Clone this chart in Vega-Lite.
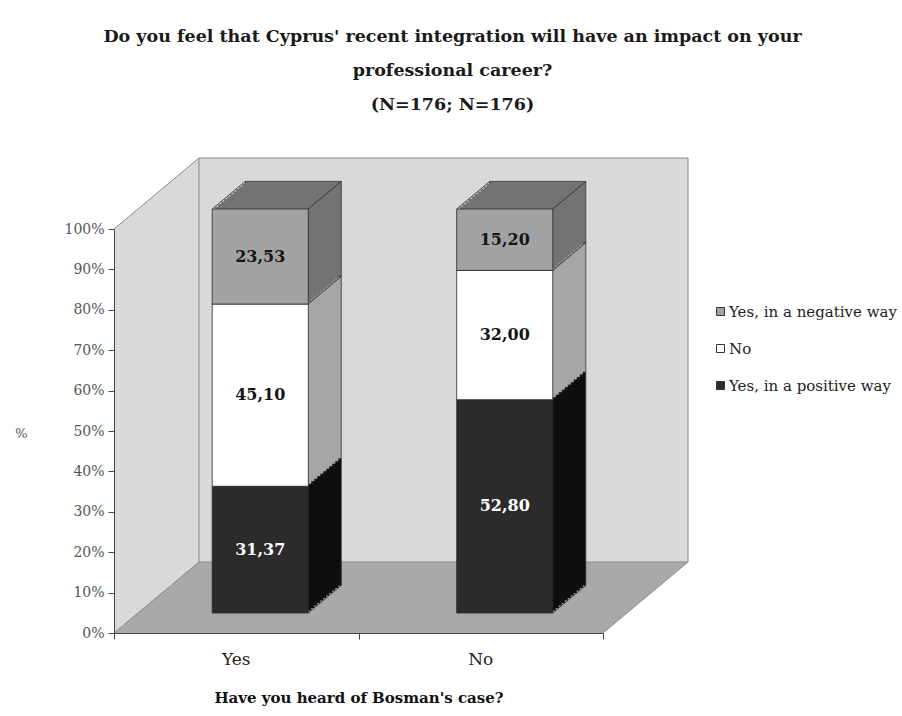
{
  "$schema": "https://vega.github.io/schema/vega-lite/v6.json",
  "width": 489,
  "height": 404,
  "autosize": {"type": "none"},
  "padding": {"left": 114, "top": 229, "right": 299, "bottom": 83},
  "background": "#ffffff",
  "title": {
    "text": [
      "Do you feel that Cyprus' recent integration will have an impact on your",
      "professional career?",
      "(N=176; N=176)"
    ],
    "font": "DejaVu Serif",
    "fontSize": 17.5,
    "fontWeight": "bold",
    "lineHeight": 34,
    "color": "#1a1a1a",
    "anchor": "middle",
    "frame": "group",
    "dx": 94,
    "offset": -8
  },
  "datasets": {
    "answers": [
      {"heard": "Yes", "answer": "Yes, in a positive way", "pct": 31.37},
      {"heard": "Yes", "answer": "No", "pct": 45.10},
      {"heard": "Yes", "answer": "Yes, in a negative way", "pct": 23.53},
      {"heard": "No", "answer": "Yes, in a positive way", "pct": 52.80},
      {"heard": "No", "answer": "No", "pct": 32.00},
      {"heard": "No", "answer": "Yes, in a negative way", "pct": 15.20}
    ]
  },
  "resolve": {"scale": {"x": "independent"}},
  "layer": [
    {
      "description": "walls: one light grey block for the left and back walls",
      "data": {"values": [{}]},
      "mark": {"type": "rect", "fill": "#d9d9d9", "x2Offset": 85, "y2Offset": -71},
      "encoding": {
        "x": {"datum": 0, "type": "quantitative", "scale": {"domain": [0, 1], "nice": false, "zero": false}, "axis": null},
        "x2": {"datum": 1},
        "y": {"datum": 0, "type": "quantitative", "scale": {"domain": [0, 100], "nice": false}},
        "y2": {"datum": 100}
      }
    },
    {
      "description": "floor",
      "data": {"values": [{}]},
      "mark": {"type": "rect", "fill": "#a9a9a9", "x2Offset": 85, "y2Offset": -71},
      "encoding": {
        "x": {"datum": 0, "type": "quantitative", "scale": {"domain": [0, 1], "nice": false, "zero": false}, "axis": null},
        "x2": {"datum": 1},
        "y": {"datum": 0, "type": "quantitative", "scale": {"domain": [0, 100], "nice": false}},
        "y2": {"datum": 0}
      }
    },
    {
      "description": "trim above the slanted top edge of the left wall",
      "data": {"values": [{}]},
      "mark": {"type": "rule", "color": "#ffffff", "strokeWidth": 60, "strokeCap": "butt", "xOffset": -19.2, "x2Offset": 65.8, "yOffset": -23, "y2Offset": -94},
      "encoding": {
        "x": {"datum": 0, "type": "quantitative", "scale": {"domain": [0, 1], "nice": false, "zero": false}, "axis": null},
        "x2": {"datum": 0},
        "y": {"datum": 100, "type": "quantitative", "scale": {"domain": [0, 100], "nice": false}},
        "y2": {"datum": 100}
      }
    },
    {
      "description": "left wall corner over the floor",
      "data": {"values": [{}]},
      "mark": {"type": "rule", "color": "#d9d9d9", "strokeWidth": 60, "strokeCap": "butt", "clip": true, "xOffset": -19.2, "x2Offset": 65.8, "yOffset": -23, "y2Offset": -94},
      "encoding": {
        "x": {"datum": 0, "type": "quantitative", "scale": {"domain": [0, 1], "nice": false, "zero": false}, "axis": null},
        "x2": {"datum": 0},
        "y": {"datum": 0, "type": "quantitative", "scale": {"domain": [0, 100], "nice": false}},
        "y2": {"datum": 0}
      }
    },
    {
      "description": "trim below the slanted right edge of the floor",
      "data": {"values": [{}]},
      "mark": {"type": "rule", "color": "#ffffff", "strokeWidth": 60, "strokeCap": "butt", "xOffset": 19.2, "x2Offset": 104.2, "yOffset": 23, "y2Offset": -48},
      "encoding": {
        "x": {"datum": 1, "type": "quantitative", "scale": {"domain": [0, 1], "nice": false, "zero": false}, "axis": null},
        "x2": {"datum": 1},
        "y": {"datum": 0, "type": "quantitative", "scale": {"domain": [0, 100], "nice": false}},
        "y2": {"datum": 0}
      }
    },
    {
      "description": "edge: top of left wall",
      "data": {"values": [{}]},
      "mark": {"type": "rule", "color": "#8a8a8a", "strokeWidth": 1, "x2Offset": 85, "y2Offset": -71},
      "encoding": {
        "x": {"datum": 0, "type": "quantitative", "scale": {"domain": [0, 1], "nice": false, "zero": false}, "axis": null},
        "x2": {"datum": 0},
        "y": {"datum": 100, "type": "quantitative", "scale": {"domain": [0, 100], "nice": false}},
        "y2": {"datum": 100}
      }
    },
    {
      "description": "edge: top of back wall",
      "data": {"values": [{}]},
      "mark": {"type": "rule", "color": "#8a8a8a", "strokeWidth": 1, "xOffset": 85, "x2Offset": 85, "yOffset": -71, "y2Offset": -71},
      "encoding": {
        "x": {"datum": 0, "type": "quantitative", "scale": {"domain": [0, 1], "nice": false, "zero": false}, "axis": null},
        "x2": {"datum": 1},
        "y": {"datum": 100, "type": "quantitative", "scale": {"domain": [0, 100], "nice": false}},
        "y2": {"datum": 100}
      }
    },
    {
      "description": "edge: right side of back wall",
      "data": {"values": [{}]},
      "mark": {"type": "rule", "color": "#8a8a8a", "strokeWidth": 1, "xOffset": 85, "x2Offset": 85, "yOffset": -71, "y2Offset": -71},
      "encoding": {
        "x": {"datum": 1, "type": "quantitative", "scale": {"domain": [0, 1], "nice": false, "zero": false}, "axis": null},
        "x2": {"datum": 1},
        "y": {"datum": 100, "type": "quantitative", "scale": {"domain": [0, 100], "nice": false}},
        "y2": {"datum": 0}
      }
    },
    {
      "description": "edge: corner between left and back walls",
      "data": {"values": [{}]},
      "mark": {"type": "rule", "color": "#8a8a8a", "strokeWidth": 1, "xOffset": 85, "x2Offset": 85, "yOffset": -71, "y2Offset": -71},
      "encoding": {
        "x": {"datum": 0, "type": "quantitative", "scale": {"domain": [0, 1], "nice": false, "zero": false}, "axis": null},
        "x2": {"datum": 0},
        "y": {"datum": 100, "type": "quantitative", "scale": {"domain": [0, 100], "nice": false}},
        "y2": {"datum": 0}
      }
    },
    {
      "description": "edge: back of floor",
      "data": {"values": [{}]},
      "mark": {"type": "rule", "color": "#8a8a8a", "strokeWidth": 1, "xOffset": 85, "x2Offset": 85, "yOffset": -71, "y2Offset": -71},
      "encoding": {
        "x": {"datum": 0, "type": "quantitative", "scale": {"domain": [0, 1], "nice": false, "zero": false}, "axis": null},
        "x2": {"datum": 1},
        "y": {"datum": 0, "type": "quantitative", "scale": {"domain": [0, 100], "nice": false}},
        "y2": {"datum": 0}
      }
    },
    {
      "description": "edge: left of floor",
      "data": {"values": [{}]},
      "mark": {"type": "rule", "color": "#8a8a8a", "strokeWidth": 1, "x2Offset": 85, "y2Offset": -71},
      "encoding": {
        "x": {"datum": 0, "type": "quantitative", "scale": {"domain": [0, 1], "nice": false, "zero": false}, "axis": null},
        "x2": {"datum": 0},
        "y": {"datum": 0, "type": "quantitative", "scale": {"domain": [0, 100], "nice": false}},
        "y2": {"datum": 0}
      }
    },
    {
      "description": "edge: right of floor, carries the category tick marks",
      "data": {"values": [{}]},
      "mark": {"type": "rule", "color": "#8a8a8a", "strokeWidth": 1, "x2Offset": 85, "y2Offset": -71},
      "encoding": {
        "x": {
          "datum": 1, "type": "quantitative",
          "scale": {"domain": [0, 1], "nice": false, "zero": false},
          "axis": {
            "orient": "bottom", "values": [0, 0.5, 1], "labels": false, "grid": false, "title": null,
            "ticks": true, "tickSize": 6, "tickColor": "#444444", "domain": true, "domainColor": "#444444", "zindex": 1
          }
        },
        "x2": {"datum": 1},
        "y": {"datum": 0, "type": "quantitative", "scale": {"domain": [0, 100], "nice": false}},
        "y2": {"datum": 0}
      }
    },
    {
      "description": "bar depth, back slice",
      "data": {"name": "answers"},
      "transform": [{"window": [{"op": "row_number", "as": "layer"}], "groupby": ["heard"]}],
      "mark": {"type": "bar", "width": {"band": 0.393}, "xOffset": 57, "yOffset": -47.6, "stroke": "#333333", "strokeWidth": 0.8},
      "encoding": {
        "x": {"field": "heard", "type": "nominal", "scale": {"domain": ["Yes", "No"], "paddingInner": 0, "paddingOuter": 0}, "axis": null},
        "y": {"field": "pct", "type": "quantitative", "stack": "zero", "scale": {"domain": [0, 100], "nice": false}},
        "order": {"field": "layer", "type": "quantitative"},
        "fill": {"field": "answer", "type": "nominal", "scale": {"domain": ["Yes, in a positive way", "No", "Yes, in a negative way"], "range": ["#0e0e0e", "#a6a6a6", "#737373"]}, "legend": null}
      }
    },
    {
      "data": {"name": "answers"},
      "transform": [{"window": [{"op": "row_number", "as": "layer"}], "groupby": ["heard"]}],
      "mark": {"type": "bar", "width": {"band": 0.393}, "xOffset": 54, "yOffset": -45.09, "strokeWidth": 0},
      "encoding": {
        "x": {"field": "heard", "type": "nominal", "scale": {"domain": ["Yes", "No"], "paddingInner": 0, "paddingOuter": 0}, "axis": null},
        "y": {"field": "pct", "type": "quantitative", "stack": "zero", "scale": {"domain": [0, 100], "nice": false}},
        "order": {"field": "layer", "type": "quantitative"},
        "fill": {"field": "answer", "type": "nominal", "legend": null}
      }
    },
    {
      "data": {"name": "answers"},
      "transform": [{"window": [{"op": "row_number", "as": "layer"}], "groupby": ["heard"]}],
      "mark": {"type": "bar", "width": {"band": 0.393}, "xOffset": 51, "yOffset": -42.58, "strokeWidth": 0},
      "encoding": {
        "x": {"field": "heard", "type": "nominal", "scale": {"domain": ["Yes", "No"], "paddingInner": 0, "paddingOuter": 0}, "axis": null},
        "y": {"field": "pct", "type": "quantitative", "stack": "zero", "scale": {"domain": [0, 100], "nice": false}},
        "order": {"field": "layer", "type": "quantitative"},
        "fill": {"field": "answer", "type": "nominal", "legend": null}
      }
    },
    {
      "data": {"name": "answers"},
      "transform": [{"window": [{"op": "row_number", "as": "layer"}], "groupby": ["heard"]}],
      "mark": {"type": "bar", "width": {"band": 0.393}, "xOffset": 48, "yOffset": -40.07, "strokeWidth": 0},
      "encoding": {
        "x": {"field": "heard", "type": "nominal", "scale": {"domain": ["Yes", "No"], "paddingInner": 0, "paddingOuter": 0}, "axis": null},
        "y": {"field": "pct", "type": "quantitative", "stack": "zero", "scale": {"domain": [0, 100], "nice": false}},
        "order": {"field": "layer", "type": "quantitative"},
        "fill": {"field": "answer", "type": "nominal", "legend": null}
      }
    },
    {
      "data": {"name": "answers"},
      "transform": [{"window": [{"op": "row_number", "as": "layer"}], "groupby": ["heard"]}],
      "mark": {"type": "bar", "width": {"band": 0.393}, "xOffset": 45, "yOffset": -37.56, "strokeWidth": 0},
      "encoding": {
        "x": {"field": "heard", "type": "nominal", "scale": {"domain": ["Yes", "No"], "paddingInner": 0, "paddingOuter": 0}, "axis": null},
        "y": {"field": "pct", "type": "quantitative", "stack": "zero", "scale": {"domain": [0, 100], "nice": false}},
        "order": {"field": "layer", "type": "quantitative"},
        "fill": {"field": "answer", "type": "nominal", "legend": null}
      }
    },
    {
      "data": {"name": "answers"},
      "transform": [{"window": [{"op": "row_number", "as": "layer"}], "groupby": ["heard"]}],
      "mark": {"type": "bar", "width": {"band": 0.393}, "xOffset": 42, "yOffset": -35.05, "strokeWidth": 0},
      "encoding": {
        "x": {"field": "heard", "type": "nominal", "scale": {"domain": ["Yes", "No"], "paddingInner": 0, "paddingOuter": 0}, "axis": null},
        "y": {"field": "pct", "type": "quantitative", "stack": "zero", "scale": {"domain": [0, 100], "nice": false}},
        "order": {"field": "layer", "type": "quantitative"},
        "fill": {"field": "answer", "type": "nominal", "legend": null}
      }
    },
    {
      "data": {"name": "answers"},
      "transform": [{"window": [{"op": "row_number", "as": "layer"}], "groupby": ["heard"]}],
      "mark": {"type": "bar", "width": {"band": 0.393}, "xOffset": 39, "yOffset": -32.55, "strokeWidth": 0},
      "encoding": {
        "x": {"field": "heard", "type": "nominal", "scale": {"domain": ["Yes", "No"], "paddingInner": 0, "paddingOuter": 0}, "axis": null},
        "y": {"field": "pct", "type": "quantitative", "stack": "zero", "scale": {"domain": [0, 100], "nice": false}},
        "order": {"field": "layer", "type": "quantitative"},
        "fill": {"field": "answer", "type": "nominal", "legend": null}
      }
    },
    {
      "data": {"name": "answers"},
      "transform": [{"window": [{"op": "row_number", "as": "layer"}], "groupby": ["heard"]}],
      "mark": {"type": "bar", "width": {"band": 0.393}, "xOffset": 36, "yOffset": -30.04, "strokeWidth": 0},
      "encoding": {
        "x": {"field": "heard", "type": "nominal", "scale": {"domain": ["Yes", "No"], "paddingInner": 0, "paddingOuter": 0}, "axis": null},
        "y": {"field": "pct", "type": "quantitative", "stack": "zero", "scale": {"domain": [0, 100], "nice": false}},
        "order": {"field": "layer", "type": "quantitative"},
        "fill": {"field": "answer", "type": "nominal", "legend": null}
      }
    },
    {
      "data": {"name": "answers"},
      "transform": [{"window": [{"op": "row_number", "as": "layer"}], "groupby": ["heard"]}],
      "mark": {"type": "bar", "width": {"band": 0.393}, "xOffset": 33, "yOffset": -27.53, "strokeWidth": 0},
      "encoding": {
        "x": {"field": "heard", "type": "nominal", "scale": {"domain": ["Yes", "No"], "paddingInner": 0, "paddingOuter": 0}, "axis": null},
        "y": {"field": "pct", "type": "quantitative", "stack": "zero", "scale": {"domain": [0, 100], "nice": false}},
        "order": {"field": "layer", "type": "quantitative"},
        "fill": {"field": "answer", "type": "nominal", "legend": null}
      }
    },
    {
      "data": {"name": "answers"},
      "transform": [{"window": [{"op": "row_number", "as": "layer"}], "groupby": ["heard"]}],
      "mark": {"type": "bar", "width": {"band": 0.393}, "xOffset": 30, "yOffset": -25.02, "strokeWidth": 0},
      "encoding": {
        "x": {"field": "heard", "type": "nominal", "scale": {"domain": ["Yes", "No"], "paddingInner": 0, "paddingOuter": 0}, "axis": null},
        "y": {"field": "pct", "type": "quantitative", "stack": "zero", "scale": {"domain": [0, 100], "nice": false}},
        "order": {"field": "layer", "type": "quantitative"},
        "fill": {"field": "answer", "type": "nominal", "legend": null}
      }
    },
    {
      "description": "bar depth, slice just behind the front face",
      "data": {"name": "answers"},
      "transform": [{"window": [{"op": "row_number", "as": "layer"}], "groupby": ["heard"]}],
      "mark": {"type": "bar", "width": {"band": 0.393}, "xOffset": 27, "yOffset": -22.51, "strokeWidth": 0},
      "encoding": {
        "x": {"field": "heard", "type": "nominal", "scale": {"domain": ["Yes", "No"], "paddingInner": 0, "paddingOuter": 0}, "axis": null},
        "y": {"field": "pct", "type": "quantitative", "stack": "zero", "scale": {"domain": [0, 100], "nice": false}},
        "order": {"field": "layer", "type": "quantitative"},
        "fill": {"field": "answer", "type": "nominal", "legend": null}
      }
    },
    {
      "description": "slanted edges of the bar tops and of the segment boundaries on the bar sides",
      "data": {"name": "answers"},
      "transform": [{"window": [{"op": "sum", "field": "pct", "as": "top"}], "groupby": ["heard"], "frame": [null, 0]}],
      "mark": {"type": "rule", "color": "#262626", "strokeWidth": 0.8, "xOffset": 72, "x2Offset": 105, "yOffset": -20, "y2Offset": -47.6},
      "encoding": {
        "x": {"field": "heard", "type": "nominal", "scale": {"domain": ["Yes", "No"], "paddingInner": 0, "paddingOuter": 0}, "axis": null},
        "x2": {"field": "heard"},
        "y": {"field": "top", "type": "quantitative", "scale": {"domain": [0, 100], "nice": false}},
        "y2": {"field": "top"}
      }
    },
    {
      "description": "slanted top-left and bottom-right edges of each bar",
      "data": {"name": "answers"},
      "transform": [{"aggregate": [{"op": "sum", "field": "pct", "as": "total"}], "groupby": ["heard"]}],
      "layer": [
        {
          "mark": {"type": "rule", "color": "#262626", "strokeWidth": 0.8, "xOffset": -24, "x2Offset": 9, "yOffset": -20, "y2Offset": -47.6},
          "encoding": {
            "x": {"field": "heard", "type": "nominal", "scale": {"domain": ["Yes", "No"], "paddingInner": 0, "paddingOuter": 0}, "axis": null},
            "x2": {"field": "heard"},
            "y": {"field": "total", "type": "quantitative", "scale": {"domain": [0, 100], "nice": false}},
            "y2": {"field": "total"}
          }
        },
        {
          "mark": {"type": "rule", "color": "#262626", "strokeWidth": 0.8, "xOffset": 72, "x2Offset": 105, "yOffset": -20, "y2Offset": -47.6},
          "encoding": {
            "x": {"field": "heard", "type": "nominal", "scale": {"domain": ["Yes", "No"], "paddingInner": 0, "paddingOuter": 0}, "axis": null},
            "x2": {"field": "heard"},
            "y": {"datum": 0, "type": "quantitative", "scale": {"domain": [0, 100], "nice": false}},
            "y2": {"datum": 0}
          }
        }
      ]
    },
    {
      "description": "front faces of the stacked bars",
      "data": {"name": "answers"},
      "transform": [{"window": [{"op": "row_number", "as": "layer"}], "groupby": ["heard"]}],
      "mark": {"type": "bar", "width": {"band": 0.393}, "xOffset": 24, "yOffset": -20, "stroke": "#262626", "strokeWidth": 0.8},
      "encoding": {
        "x": {
          "field": "heard", "type": "nominal",
          "scale": {"domain": ["Yes", "No"], "paddingInner": 0, "paddingOuter": 0},
          "axis": {
            "orient": "bottom", "domain": false, "ticks": false, "labelAngle": 0,
            "labelFont": "DejaVu Serif", "labelFontSize": 17, "labelColor": "#222222", "labelPadding": 18,
            "title": "Have you heard of Bosman's case?", "titleFont": "DejaVu Serif", "titleFontSize": 15,
            "titleFontWeight": "bold", "titleColor": "#111111", "titlePadding": 23, "zindex": 1
          }
        },
        "y": {
          "field": "pct", "type": "quantitative", "stack": "zero",
          "scale": {"domain": [0, 100], "nice": false},
          "axis": {
            "values": [0, 10, 20, 30, 40, 50, 60, 70, 80, 90, 100],
            "labelExpr": "datum.value + '%'",
            "grid": false, "domainColor": "#444444", "tickColor": "#444444", "tickSize": 6,
            "labelFont": "DejaVu Serif", "labelFontSize": 14, "labelColor": "#555555", "labelPadding": 4,
            "title": "%", "titleAngle": 0, "titleX": -93, "titleY": 204, "titleAlign": "center", "titleBaseline": "middle",
            "titleFont": "DejaVu Serif", "titleFontSize": 13, "titleFontWeight": "normal", "titleColor": "#555555",
            "zindex": 1
          }
        },
        "order": {"field": "layer", "type": "quantitative"},
        "color": {
          "field": "answer", "type": "nominal",
          "scale": {"domain": ["Yes, in a negative way", "No", "Yes, in a positive way"], "range": ["#a3a3a3", "#ffffff", "#2b2b2b"]},
          "legend": {
            "orient": "none", "legendX": 599, "legendY": 75, "title": null,
            "symbolType": "square", "symbolSize": 64, "symbolStrokeColor": "#333333", "symbolStrokeWidth": 1,
            "labelFont": "DejaVu Serif", "labelFontSize": 15, "labelColor": "#222222", "labelOffset": 1,
            "labelLimit": 400, "rowPadding": 21
          }
        }
      }
    },
    {
      "description": "value labels on the front faces, light on the dark segment",
      "data": {"name": "answers"},
      "transform": [{"window": [{"op": "row_number", "as": "layer"}], "groupby": ["heard"]}],
      "mark": {"type": "text", "xOffset": 24, "yOffset": -20, "font": "DejaVu Serif", "fontSize": 16, "fontWeight": "bold", "baseline": "middle", "align": "center", "fill": "#ffffff"},
      "encoding": {
        "x": {"field": "heard", "type": "nominal", "scale": {"domain": ["Yes", "No"], "paddingInner": 0, "paddingOuter": 0}, "axis": null},
        "y": {"field": "pct", "type": "quantitative", "stack": "zero", "bandPosition": 0.5, "scale": {"domain": [0, 100], "nice": false}},
        "order": {"field": "layer", "type": "quantitative"},
        "detail": {"field": "answer", "type": "nominal"},
        "text": {"field": "pct", "type": "quantitative", "format": ".2f"},
        "opacity": {"condition": {"test": "datum.answer === 'Yes, in a positive way'", "value": 1}, "value": 0}
      }
    },
    {
      "description": "value labels on the front faces, dark on the light segments",
      "data": {"name": "answers"},
      "transform": [{"window": [{"op": "row_number", "as": "layer"}], "groupby": ["heard"]}],
      "mark": {"type": "text", "xOffset": 24, "yOffset": -20, "font": "DejaVu Serif", "fontSize": 16, "fontWeight": "bold", "baseline": "middle", "align": "center", "fill": "#151515"},
      "encoding": {
        "x": {"field": "heard", "type": "nominal", "scale": {"domain": ["Yes", "No"], "paddingInner": 0, "paddingOuter": 0}, "axis": null},
        "y": {"field": "pct", "type": "quantitative", "stack": "zero", "bandPosition": 0.5, "scale": {"domain": [0, 100], "nice": false}},
        "order": {"field": "layer", "type": "quantitative"},
        "detail": {"field": "answer", "type": "nominal"},
        "text": {"field": "pct", "type": "quantitative", "format": ".2f"},
        "opacity": {"condition": {"test": "datum.answer === 'Yes, in a positive way'", "value": 0}, "value": 1}
      }
    }
  ],
  "config": {
    "view": {"stroke": null},
    "locale": {
      "number": {"decimal": ",", "thousands": ".", "grouping": [3], "currency": ["", " €"]}
    }
  }
}
